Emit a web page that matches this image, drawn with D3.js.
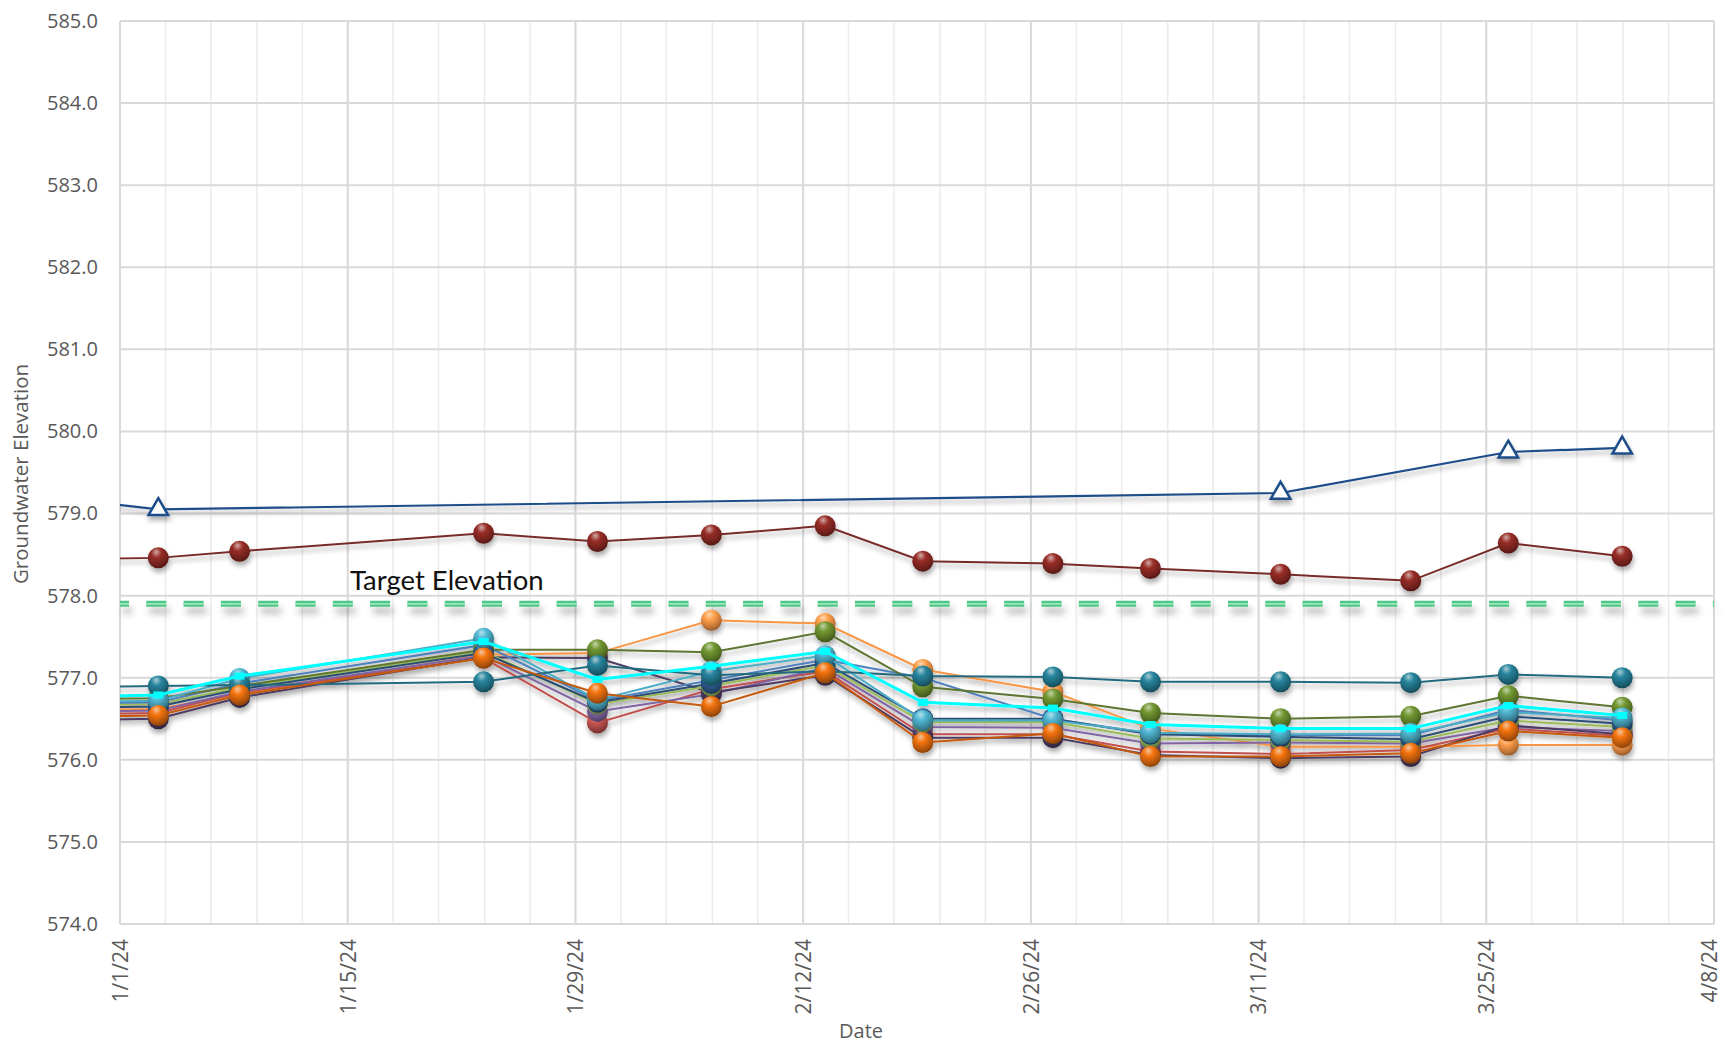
<!DOCTYPE html>
<html><head><meta charset="utf-8">
<script src="https://cdn.jsdelivr.net/npm/d3@7"></script>
<style>body{margin:0;background:#fff} svg{display:block}</style>
</head><body><svg id="chart" width="1725" height="1044"></svg>
<script>
// ---------------- DATA ----------------
const sampleDates = ["2023-12-27T08:30","2024-01-03T08:30","2024-01-08T08:30","2024-01-23T08:30","2024-01-30T08:30",
  "2024-02-06T08:30","2024-02-13T08:30","2024-02-19T08:30","2024-02-27T08:30","2024-03-04T08:30",
  "2024-03-12T08:30","2024-03-20T08:30","2024-03-26T08:30","2024-04-02T08:30"];
const xTickLabels = ["1/1/24","1/15/24","1/29/24","2/12/24","2/26/24","3/11/24","3/25/24","4/8/24"];
const yTickLabels = ["574.0","575.0","576.0","577.0","578.0","579.0","580.0","581.0","582.0","583.0","584.0","585.0"];
const targetElevation = 577.9;

const wellTriangle = [579.21,579.05,null,null,null,null,null,null,null,null,579.25,null,579.75,579.80];
const wellMaroon   = [578.44,578.46,578.54,578.76,578.66,578.74,578.85,578.42,578.39,578.33,578.26,578.18,578.64,578.48];
const wellLightOrange = [576.60,576.62,576.80,577.28,577.30,577.70,577.66,577.10,576.83,576.38,576.16,576.16,576.18,576.18];
const wellRed      = [576.55,576.57,576.82,577.24,576.45,576.86,577.08,576.31,576.31,576.10,576.07,576.12,576.38,576.29];
const wellPurple   = [576.58,576.60,576.83,577.27,576.59,576.80,577.12,576.40,576.39,576.20,576.21,576.20,576.40,576.35];
const wellDarkPurple = [576.48,576.50,576.76,577.25,577.24,576.82,577.03,576.27,576.27,576.06,576.02,576.04,576.42,576.31];
const wellLightGreen = [576.66,576.68,576.88,577.32,576.68,576.90,577.15,576.46,576.46,576.26,576.24,576.22,576.48,576.40];
const wellBlue     = [576.68,576.70,576.93,577.40,576.72,576.97,577.22,577.00,576.50,576.32,576.30,576.30,576.61,576.48];
const wellGreen    = [576.74,576.75,576.90,577.34,577.34,577.31,577.56,576.89,576.74,576.57,576.50,576.53,576.78,576.64];
const wellNavy     = [576.63,576.65,576.86,577.30,576.70,576.93,577.18,576.50,576.50,576.31,576.28,576.25,576.53,576.44];
const wellAqua     = [576.70,576.72,576.99,577.48,576.73,577.08,577.27,576.48,576.48,576.33,576.31,576.32,576.58,576.51];
const wellTeal     = [576.88,576.90,576.91,576.95,577.15,577.03,577.08,577.02,577.01,576.95,576.95,576.94,577.04,577.00];
const wellDarkOrange = [576.52,576.54,576.79,577.24,576.81,576.65,577.06,576.21,576.32,576.04,576.04,576.08,576.35,576.27];
const wellCyan     = [576.76,576.79,577.02,577.44,576.98,577.14,577.32,576.70,576.63,576.43,576.38,576.38,576.66,576.54];

// ---------------- STYLE ----------------
const series = [
  {values: wellTriangle, line:"#1F4E89", fill:"#1F4E89", marker:"triangle", w:2.2},
  {values: wellMaroon, line:"#772C2A", fill:"#8E2A24", marker:"ball", w:2},
  {values: wellLightOrange, line:"#F79646", fill:"#F79646", marker:"ball", w:2},
  {values: wellRed, line:"#C0504D", fill:"#C0504D", marker:"ball", w:2},
  {values: wellPurple, line:"#8064A2", fill:"#8064A2", marker:"ball", w:2},
  {values: wellDarkPurple, line:"#4D3B62", fill:"#4D3B62", marker:"ball", w:2},
  {values: wellLightGreen, line:"#9BBB59", fill:"#9BBB59", marker:"ball", w:2},
  {values: wellBlue, line:"#4F81BD", fill:"#4F81BD", marker:"ball", w:2},
  {values: wellGreen, line:"#5F7530", fill:"#6A8E2E", marker:"ball", w:2},
  {values: wellNavy, line:"#2C4D75", fill:"#2E5A8E", marker:"ball", w:2},
  {values: wellAqua, line:"#4BACC6", fill:"#4BACC6", marker:"ball", w:2},
  {values: wellTeal, line:"#236B80", fill:"#247C93", marker:"ball", w:2},
  {values: wellDarkOrange, line:"#C55A11", fill:"#E46C0A", marker:"ball", w:2},
  {values: wellCyan, line:"#00FFFF", fill:"#00FFFF", marker:"square", w:3}
];

const W = 1725, H = 1044;
const m = {left:120, right:11, top:21, bottom:120};
const svg = d3.select("#chart");
const parse = d3.timeParse("%Y-%m-%dT%H:%M");
const dates = sampleDates.map(parse);
const x0 = new Date(2024,0,1), x1 = new Date(2024,3,8);
const x = d3.scaleTime().domain([x0,x1]).range([m.left, W-m.right]);
const y = d3.scaleLinear().domain([574,585]).range([H-m.bottom, m.top]);
const fmtLabel = d3.timeFormat("%-m/%-d/%y");

const defs = svg.append("defs");
defs.append("clipPath").attr("id","plotclip").append("rect")
  .attr("x",m.left).attr("y",m.top-12).attr("width",W-m.left-m.right).attr("height",H-m.top-m.bottom+24);
const shadow = defs.append("filter").attr("id","shadow").attr("filterUnits","userSpaceOnUse")
  .attr("x",0).attr("y",0).attr("width",W).attr("height",H);
shadow.append("feDropShadow").attr("dx",1).attr("dy",4).attr("stdDeviation",2.5).attr("flood-color","#000").attr("flood-opacity",0.33);
const shadow2 = defs.append("filter").attr("id","shadow2").attr("filterUnits","userSpaceOnUse")
  .attr("x",0).attr("y",0).attr("width",W).attr("height",H);
shadow2.append("feDropShadow").attr("dx",3).attr("dy",7).attr("stdDeviation",3.5).attr("flood-color","#000").attr("flood-opacity",0.28);

// gradients for balls
series.forEach((s,i)=>{
  const c = d3.color(s.fill);
  const g = defs.append("radialGradient").attr("id","ball"+i)
    .attr("cx","42%").attr("cy","30%").attr("r","70%").attr("fx","40%").attr("fy","22%");
  g.append("stop").attr("offset","0%").attr("stop-color", d3.interpolateRgb(s.fill,"#ffffff")(0.6));
  g.append("stop").attr("offset","35%").attr("stop-color", c.brighter(0.2).formatHex());
  g.append("stop").attr("offset","75%").attr("stop-color", c.darker(0.6).formatHex());
  g.append("stop").attr("offset","100%").attr("stop-color", c.darker(1.4).formatHex());
});

// ---------------- GRID ----------------
const grid = svg.append("g");
const minorDays = d3.range(0, 98.01, 2.8);
grid.selectAll(".vminor").data(minorDays).join("line")
  .attr("x1",d=>x(d3.timeHour.offset(x0, Math.round(d*24)))).attr("x2",d=>x(d3.timeHour.offset(x0, Math.round(d*24))))
  .attr("y1",y(585)).attr("y2",y(574)).attr("stroke","#ececec").attr("stroke-width",1.6);
const majorDates = xTickLabels.map(s=>d3.timeParse("%m/%d/%y")(s));
grid.selectAll(".vmajor").data(majorDates).join("line")
  .attr("x1",d=>x(d)).attr("x2",d=>x(d)).attr("y1",y(585)).attr("y2",y(574))
  .attr("stroke","#d9d9d9").attr("stroke-width",2);
const yVals = yTickLabels.map(Number);
grid.selectAll(".h").data(yVals).join("line")
  .attr("x1",m.left).attr("x2",W-m.right).attr("y1",d=>y(d)).attr("y2",d=>y(d))
  .attr("stroke","#d9d9d9").attr("stroke-width",2);

// ---------------- AXES ----------------
const yAxis = d3.axisLeft(y).tickValues(yVals).tickFormat(d3.format(".1f")).tickSize(0).tickPadding(22);
const gy = svg.append("g").attr("transform",`translate(${m.left},0)`).call(yAxis);
gy.select(".domain").remove();
gy.selectAll("text").attr("font-family","'Open Sans', sans-serif").attr("font-size",20).attr("fill","#595959");

const xAxis = d3.axisBottom(x).tickValues(majorDates).tickFormat(fmtLabel).tickSize(0);
const gx = svg.append("g").attr("transform",`translate(0,${H-m.bottom})`).call(xAxis);
gx.select(".domain").remove();
gx.selectAll(".tick").filter((d,i,n)=>i===n.length-1).attr("transform",d=>`translate(${x(d)-4},0)`);
gx.selectAll("text").attr("font-family","'Open Sans', sans-serif").attr("font-size",21).attr("fill","#595959")
  .attr("text-anchor","end").attr("transform","rotate(-90)").attr("x",-15).attr("y",0).attr("dy","0.35em");

svg.append("text").attr("x",20).attr("y",474).attr("transform","rotate(-90,20,474)")
  .attr("text-anchor","middle").attr("dominant-baseline","central")
  .attr("font-family","'Open Sans', sans-serif").attr("font-size",20.5).attr("fill","#595959").text("Groundwater Elevation");
svg.append("text").attr("x",861).attr("y",1038).attr("text-anchor","middle")
  .attr("font-family","'Open Sans', sans-serif").attr("font-size",20).attr("fill","#595959").text("Date");

// ---------------- TARGET LINE ----------------
const tg = svg.append("g").attr("filter","url(#shadow2)");
tg.append("line").attr("x1",m.left).attr("x2",W-m.right).attr("y1",y(targetElevation)).attr("y2",y(targetElevation))
  .attr("stroke","#4DC785").attr("stroke-width",6).attr("stroke-dasharray","20,17.3").attr("stroke-dashoffset",11);
tg.append("line").attr("x1",m.left).attr("x2",W-m.right).attr("y1",y(targetElevation)).attr("y2",y(targetElevation))
  .attr("stroke","#9DE6BC").attr("stroke-width",1.6).attr("stroke-dasharray","20,17.3").attr("stroke-dashoffset",11);
svg.append("text").attr("x",350).attr("y",590)
  .attr("font-family","Lato, 'Open Sans', sans-serif").attr("font-size",27.5).attr("fill","#111").text("Target Elevation");

// ---------------- SERIES ----------------
const sg = svg.append("g").attr("clip-path","url(#plotclip)").append("g").attr("filter","url(#shadow)");
const line = d3.line().x(d=>x(d.date)).y(d=>y(d.v));
series.forEach((s,i)=>{
  const pts = dates.map((d,j)=>({date:d, v:s.values[j]})).filter(p=>p.v!==null);
  const g = sg.append("g");
  g.append("path").attr("d",line(pts)).attr("fill","none").attr("stroke",s.line).attr("stroke-width",s.w);
  const vis = pts.filter(p=>p.date>=x0);
  if (s.marker==="ball") {
    g.selectAll("circle").data(vis).join("circle").attr("cx",p=>x(p.date)).attr("cy",p=>y(p.v))
      .attr("r",10.5).attr("fill",`url(#ball${i})`);
  } else if (s.marker==="triangle") {
    g.selectAll("path.m").data(vis).join("path").attr("class","m")
      .attr("transform",p=>`translate(${x(p.date)},${y(p.v)})`)
      .attr("d",d3.symbol(d3.symbolTriangle,165)()).attr("fill","#fff").attr("stroke",s.line).attr("stroke-width",2.5);
  } else {
    g.selectAll("rect").data(vis).join("rect").attr("x",p=>x(p.date)-5).attr("y",p=>y(p.v)-3.5)
      .attr("width",10).attr("height",7).attr("fill",s.fill);
  }
});
</script></body></html>
